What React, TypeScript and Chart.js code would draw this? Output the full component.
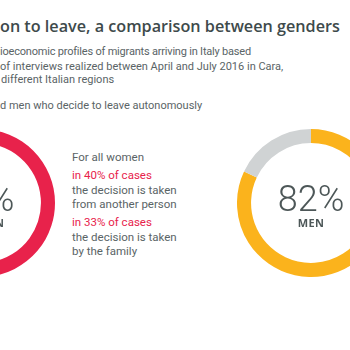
import React, { useEffect, useRef } from "react";
import { Chart, registerables } from "chart.js";

Chart.register(...registerables);

// ---- data ----
const GENDERS = ["WOMEN", "MEN"];
const AUTONOMOUS_PCT = [60, 82];
const SEGMENTS = ["Decide autonomously", "Decision taken by others"];
const RING_COLORS = [
  ["#e8224b", "#d0d3d4"],
  ["#fbb31c", "#d0d3d4"],
];

const TITLE = "on to leave, a comparison between genders";
const SUBTITLE_LINES = [
  "ioeconomic profiles of migrants arriving in Italy based",
  "of interviews realized between April and July 2016 in Cara,",
  "different Italian regions",
];
const CAPTION = "d men who decide to leave autonomously";
const NOTE_LINES = [
  "For all women",
  "in 40% of cases",
  "the decision is taken",
  "from another person",
  "in 33% of cases",
  "the decision is taken",
  "by the family",
];
const NOTE_HIGHLIGHT = [false, true, false, false, true, false, false];

// ---- layout ----
const R = 74;
const CENTERS = [
  { cx: -19, cy: 203 },
  { cx: 311, cy: 203 },
];
const TEXT = "#4d5758";
const FONT = "Roboto, 'Noto Sans', sans-serif";

function Donut({ pct, colors, label, cx, cy }: { pct: number; colors: string[]; label: string; cx: number; cy: number }) {
  const ref = useRef<HTMLCanvasElement>(null);
  useEffect(() => {
    const chart = new Chart(ref.current!, {
      type: "doughnut",
      data: {
        labels: SEGMENTS,
        datasets: [
          {
            data: [pct, 100 - pct],
            backgroundColor: colors,
            borderWidth: 0,
            hoverOffset: 0,
          },
        ],
      },
      options: {
        responsive: false,
        animation: false,
        cutout: "81%",
        events: [],
        layout: { padding: 0 },
        plugins: { legend: { display: false }, tooltip: { enabled: false } },
      },
    });
    return () => chart.destroy();
  }, [pct, colors]);
  return (
    <>
      <canvas
        ref={ref}
        width={2 * R}
        height={2 * R}
        style={{ position: "absolute", left: cx - R, top: cy - R, width: 2 * R, height: 2 * R }}
      />
      <div
        style={{
          position: "absolute",
          left: cx - 70,
          width: 140,
          top: cy - 22,
          textAlign: "center",
          fontFamily: FONT,
          fontWeight: 300,
          fontSize: 36,
          lineHeight: "36px",
          color: TEXT,
          whiteSpace: "nowrap",
        }}
      >
        {pct}%
      </div>
      <div
        style={{
          position: "absolute",
          left: cx - 70,
          width: 140,
          top: cy + 14,
          textAlign: "center",
          fontFamily: "'Open Sans', sans-serif",
          fontWeight: 700,
          fontSize: 11,
          lineHeight: "12px",
          letterSpacing: 0.3,
          color: TEXT,
          whiteSpace: "nowrap",
        }}
      >
        {label}
      </div>
    </>
  );
}

export default function App() {
  const subTops = [45, 60, 73];
  const subLefts = [0, 0, 1];
  const subSpacing = [-0.2, 0, 0];
  const noteTops = [150, 168, 183, 197, 215, 230, 244];
  return (
    <div
      style={{
        position: "fixed",
        left: 0,
        top: 0,
        width: 350,
        height: 350,
        overflow: "hidden",
        background: "#ffffff",
      }}
    >
      <div
        style={{
          position: "absolute",
          left: 0,
          top: 16,
          fontFamily: "'Open Sans', sans-serif",
          fontWeight: 600,
          fontSize: 16.2,
          lineHeight: "20px",
          color: "#3e4a4b",
          whiteSpace: "nowrap",
        }}
      >
        {TITLE}
      </div>
      {SUBTITLE_LINES.map((t, i) => (
        <div
          key={i}
          style={{
            position: "absolute",
            left: subLefts[i],
            top: subTops[i],
            fontFamily: FONT,
            fontSize: 11,
            lineHeight: "14px",
            letterSpacing: subSpacing[i],
            color: "#5a6466",
            whiteSpace: "nowrap",
          }}
        >
          {t}
        </div>
      ))}
      <div
        style={{
          position: "absolute",
          left: 0,
          top: 99,
          fontFamily: FONT,
          fontSize: 11,
          lineHeight: "14px",
          color: "#5a6466",
          whiteSpace: "nowrap",
        }}
      >
        {CAPTION}
      </div>
      {NOTE_LINES.map((t, i) => (
        <div
          key={"n" + i}
          style={{
            position: "absolute",
            left: 72,
            top: noteTops[i],
            fontFamily: FONT,
            fontSize: 11.5,
            lineHeight: "14px",
            color: NOTE_HIGHLIGHT[i] ? "#e8224b" : "#5a6466",
            whiteSpace: "nowrap",
          }}
        >
          {t}
        </div>
      ))}
      {GENDERS.map((g, i) => (
        <Donut
          key={g}
          pct={AUTONOMOUS_PCT[i]}
          colors={RING_COLORS[i]}
          label={g}
          cx={CENTERS[i].cx}
          cy={CENTERS[i].cy}
        />
      ))}
    </div>
  );
}
